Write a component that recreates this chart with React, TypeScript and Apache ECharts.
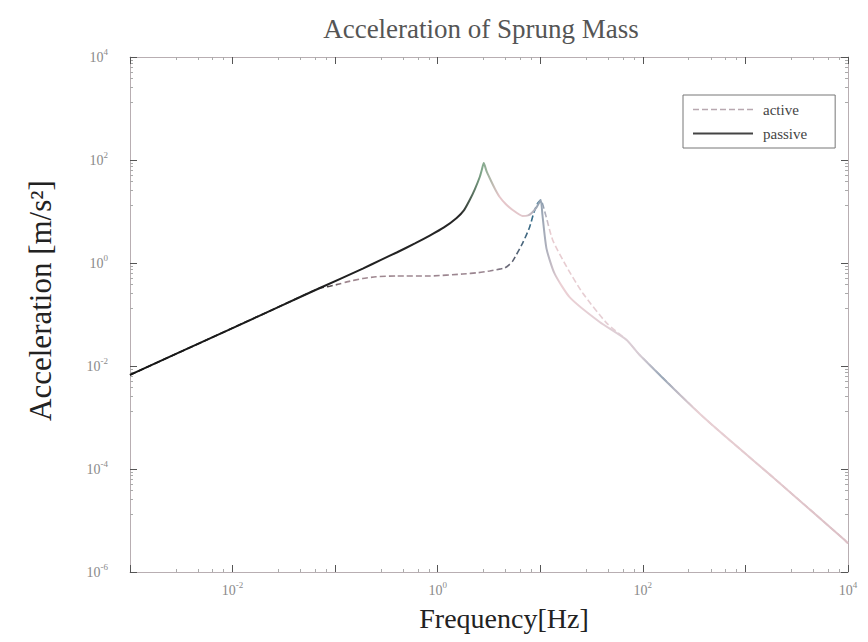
import React, { useEffect, useRef } from "react";
import * as echarts from "echarts";

// Frequency [Hz] and acceleration [m/s^2]
const activeFreq = [0.001, 0.01, 0.03, 0.071, 0.0886, 0.11, 0.13, 0.186, 0.25, 0.398, 0.836, 1.75, 2.5, 3.21, 4.0, 4.5, 4.9, 5.38, 6.73, 7.88, 8.63, 9.44, 10.1, 11.3, 13.2, 18.1, 25.9, 44.4, 69.5, 93, 419, 1841, 9270, 10000];
const activeAcc = [0.0067, 0.0546, 0.149, 0.327, 0.355, 0.39, 0.43, 0.5, 0.54, 0.56, 0.56, 0.611, 0.65, 0.7, 0.76, 0.8, 0.9, 1.09, 2.44, 5.0, 9.35, 14.6, 16.7, 8.55, 2.8, 0.836, 0.261, 0.068, 0.032, 0.0164, 0.00089, 7.0e-5, 4.2e-6, 3.6e-6];

const passiveFreq = [0.001, 0.01, 0.03, 0.071, 0.186, 0.28, 0.398, 0.6, 0.836, 1.15, 1.53, 1.8, 2.05, 2.3, 2.57, 2.69, 2.81, 3.0, 3.21, 3.6, 4.02, 4.6, 5.38, 6.73, 7.6, 8.24, 9.22, 10.1, 10.5, 11.5, 13.8, 19.4, 37.9, 69.5, 93, 419, 1841, 9270, 10000];
const passiveAcc = [0.0067, 0.0546, 0.149, 0.327, 0.78, 1.15, 1.6, 2.4, 3.4, 4.9, 7.5, 10.5, 16.7, 27, 46.8, 64, 87, 60, 44.7, 28, 19.1, 14, 10.7, 8.18, 8.4, 9.35, 12.2, 16.7, 8.55, 1.9, 0.62, 0.215, 0.0715, 0.032, 0.0164, 0.00089, 7.0e-5, 4.2e-6, 3.6e-6];

const seriesNames = ["active", "passive"];
const titleText = "Acceleration of Sprung Mass";
const xName = "Frequency[Hz]";
const yName = "Acceleration [m/s\u00B2]";

const SERIF = "'Liberation Serif', 'DejaVu Serif', serif";

function pairs(f: number[], a: number[]) {
  return f.map((v, i) => [v, a[i]]);
}

function powLabel(v: number, skipOdd: boolean) {
  const e = Math.round(Math.log10(v));
  if (skipOdd && Math.abs(e) % 2 === 1) return "";
  return `{b|10}{s|${e}}`;
}

const labelRich = {
  b: { fontSize: 14, lineHeight: 20, fontFamily: SERIF, color: "#8a8a8a" },
  s: { fontSize: 9, lineHeight: 10, verticalAlign: "top" as const, fontFamily: SERIF, color: "#8a8a8a" },
};

export default function App() {
  const ref = useRef<HTMLDivElement>(null);
  useEffect(() => {
    if (!ref.current) return;
    const chart = echarts.init(ref.current, undefined, { renderer: "svg" });

    const passiveGrad = new echarts.graphic.LinearGradient(0, 0, 1, 0, [
      { offset: 0, color: "#151515" },
      { offset: 0.46, color: "#262626" },
      { offset: 0.49, color: "#7fa88a" },
      { offset: 0.515, color: "#e6c6ca" },
      { offset: 0.55, color: "#e2c8cc" },
      { offset: 0.57, color: "#8fa0b0" },
      { offset: 0.6, color: "#ecd0d4" },
      { offset: 0.71, color: "#d8cdd5" },
      { offset: 0.74, color: "#9aa8b8" },
      { offset: 0.79, color: "#e8d0d4" },
      { offset: 1, color: "#dcc0c6" },
    ]);
    const activeGrad = new echarts.graphic.LinearGradient(0, 0, 1, 0, [
      { offset: 0, color: "#151515" },
      { offset: 0.27, color: "#303030" },
      { offset: 0.3, color: "#a08890" },
      { offset: 0.5, color: "#9a8590" },
      { offset: 0.535, color: "#5a6070" },
      { offset: 0.565, color: "#2f6f8f" },
      { offset: 0.585, color: "#e8ccd0" },
      { offset: 0.7, color: "#e4d0d6" },
      { offset: 0.74, color: "#9aa8b8" },
      { offset: 0.78, color: "#e8d0d4" },
      { offset: 1, color: "#dcc0c6" },
    ]);

    const frameColor = "#b8aeb2";
    const tickColor = "#555";

    const commonX = {
      type: "log" as const,
      logBase: 10,
      min: 0.001,
      max: 10000,
      interval: 1,
      splitLine: { show: false },
      axisLine: { show: true, lineStyle: { color: frameColor, width: 1 } },
      axisTick: { show: true, inside: true, length: 7, lineStyle: { color: tickColor } },
      minorTick: { show: true, splitNumber: 5, length: 3, lineStyle: { color: "#aaa" } },
    };
    const commonY = {
      type: "log" as const,
      logBase: 10,
      min: 1e-6,
      max: 1e4,
      interval: 2,
      splitLine: { show: false },
      axisLine: { show: true, lineStyle: { color: frameColor, width: 1 } },
      axisTick: { show: true, inside: true, length: 7, lineStyle: { color: tickColor } },
      minorTick: { show: true, splitNumber: 8, length: 3, lineStyle: { color: "#aaa" } },
    };

    chart.setOption({
      animation: false,
      backgroundColor: "#ffffff",
      title: {
        text: titleText,
        left: 476,
        top: 10,
        textAlign: "center",
        textStyle: { fontFamily: SERIF, fontSize: 27, fontWeight: "normal", color: "#555" },
      },
      legend: {
        left: 683,
        top: 95,
        orient: "vertical",
        itemWidth: 60,
        itemHeight: 14,
        itemGap: 9,
        padding: [7, 28, 7, 9],
        borderColor: "#777",
        borderWidth: 1,
        backgroundColor: "#fff",
        textStyle: { fontFamily: SERIF, fontSize: 15, color: "#444", padding: [0, 0, 0, 5] },
        data: [
          { name: seriesNames[0], itemStyle: { opacity: 0 }, lineStyle: { color: "#b8a8b0", type: "dashed", width: 1.5 } },
          { name: seriesNames[1], itemStyle: { opacity: 0 }, lineStyle: { color: "#444", width: 2 } },
        ],
      },
      grid: { left: 130, right: 20, top: 57, bottom: 70, containLabel: false, outerBoundsMode: "none" },
      xAxis: [
        {
          ...commonX,
          position: "bottom",
          axisLabel: {
            show: true,
            margin: 8,
            formatter: (v: number) => powLabel(v, true),
            rich: labelRich,
          },
          name: xName,
          nameLocation: "middle",
          nameGap: 32,
          nameTextStyle: { fontFamily: SERIF, fontSize: 28, color: "#222", padding: [0, 0, 0, 30] },
        },
        {
          ...commonX,
          position: "top",
          axisLabel: { show: false },
        },
      ],
      yAxis: [
        {
          ...commonY,
          position: "left",
          axisLabel: {
            show: true,
            margin: 22,
            formatter: (v: number) => powLabel(v, false),
            rich: labelRich,
          },
          name: yName,
          nameLocation: "middle",
          nameGap: 74,
          nameTextStyle: { fontFamily: SERIF, fontSize: 31, color: "#222", padding: [0, 0, 0, 28] },
        },
        {
          ...commonY,
          position: "right",
          axisLabel: { show: false },
        },
      ],
      series: [
        {
          name: seriesNames[0],
          type: "line",
          symbol: "none",
          showSymbol: false,
          smooth: 0.2,
          data: pairs(activeFreq, activeAcc),
          lineStyle: { color: activeGrad, width: 1.6, type: [6, 3] },
          itemStyle: { color: "#b8a8b0" },
          z: 2,
        },
        {
          name: seriesNames[1],
          type: "line",
          symbol: "none",
          showSymbol: false,
          smooth: 0.2,
          data: pairs(passiveFreq, passiveAcc),
          lineStyle: { color: passiveGrad, width: 2 },
          itemStyle: { color: "#444" },
          z: 3,
        },
      ],
    });
    return () => chart.dispose();
  }, []);

  return (
    <div
      ref={ref}
      style={{ position: "fixed", left: 0, top: 0, width: 868, height: 642, background: "#fff" }}
    />
  );
}
